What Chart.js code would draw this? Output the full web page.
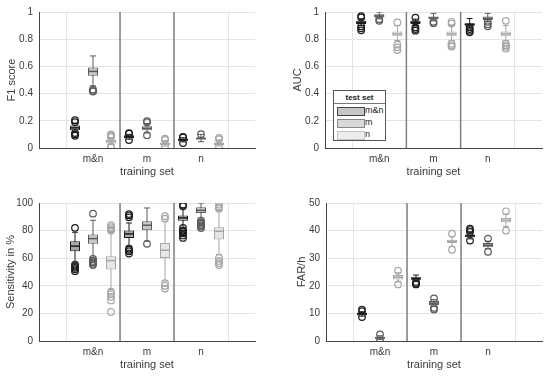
<!DOCTYPE html>
<html>
<head>
<meta charset="utf-8">
<script src="https://cdn.jsdelivr.net/npm/chart.js@4.4.0/dist/chart.umd.min.js"></script>
<style>
  body { margin: 0; background: #fff; }
  #wrap { position: relative; width: 550px; height: 376px; }
  .panel { position: absolute; width: 275px; height: 188px; }
  #legend { position: absolute; left: 333px; top: 90px; width: 51px; height: 49px; background: #fff;
            border: 1px solid #555; font: 9px "Liberation Sans", Arial, sans-serif; color: #222; }
  #legend .ttl { height: 12px; line-height: 13px; text-align: center; font-weight: bold; font-size: 8px; border-bottom: 1px solid #777; }
  #legend .row { position: relative; height: 11px; margin-top: 1px; }
  #legend .sw { position: absolute; left: 3px; top: 2px; width: 26px; height: 7px; }
  #legend .lb { position: absolute; left: 31px; top: 0px; color: #222; }
</style>
</head>
<body>
<div id="wrap">
  <div class="panel" style="left:0;top:0"><canvas id="c1" width="275" height="188"></canvas></div>
  <div class="panel" style="left:275px;top:0"><canvas id="c2" width="275" height="188"></canvas></div>
  <div class="panel" style="left:0;top:188px"><canvas id="c3" width="275" height="188"></canvas></div>
  <div class="panel" style="left:275px;top:188px"><canvas id="c4" width="275" height="188"></canvas></div>
  <div id="legend">
    <div class="ttl">test set</div>
    <div class="row"><div class="sw" style="background:#c6c6c6;border:1px solid #444"></div><span class="lb">m&amp;n</span></div>
    <div class="row"><div class="sw" style="background:#d8d8d8;border:1px solid #888"></div><span class="lb">m</span></div>
    <div class="row"><div class="sw" style="background:#ececec;border:1px solid #c4c4c4"></div><span class="lb">n</span></div>
  </div>
</div>
<script>
const trainingSets = ['m&n', 'm', 'n'];
const testSets = ['m&n', 'm', 'n'];

// all arrays indexed [test set][training set]
const f1Q1 = [[0.13, 0.072, 0.053], [0.532, 0.13, 0.063], [0.035, 0.02, 0.022]];
const f1Med = [[0.148, 0.082, 0.06], [0.563, 0.145, 0.07], [0.05, 0.03, 0.031]];
const f1Q3 = [[0.165, 0.094, 0.07], [0.592, 0.16, 0.077], [0.062, 0.04, 0.04]];
const f1Lo = [[0.12, 0.065, 0.045], [0.457, 0.11, 0.046], [0.025, 0.014, 0.016]];
const f1Hi = [[0.18, 0.1, 0.075], [0.677, 0.18, 0.1], [0.075, 0.055, 0.06]];
const f1Out = [
  [[0.205, 0.19, 0.11, 0.1, 0.09], [0.11, 0.105, 0.058], [0.082, 0.078, 0.036]],
  [[0.43, 0.42, 0.415], [0.198, 0.19, 0.094], [0.102]],
  [[0.1, 0.09, 0.08, 0.012, 0.005], [0.068, 0.06, 0.01], [0.075, 0.065, 0.01]]
];

const aucQ1 = [[0.911, 0.911, 0.899], [0.959, 0.947, 0.942], [0.822, 0.822, 0.822]];
const aucMed = [[0.923, 0.923, 0.909], [0.971, 0.957, 0.954], [0.839, 0.839, 0.839]];
const aucQ3 = [[0.935, 0.935, 0.918], [0.983, 0.966, 0.966], [0.856, 0.856, 0.856]];
const aucLo = [[0.9, 0.9, 0.888], [0.95, 0.935, 0.93], [0.79, 0.79, 0.79]];
const aucHi = [[0.95, 0.948, 0.952], [1.0, 0.99, 0.99], [0.9, 0.9, 0.9]];
const aucOut = [
  [[0.97, 0.96, 0.895, 0.88, 0.865], [0.958, 0.887, 0.875, 0.863], [0.887, 0.875, 0.862, 0.851]],
  [[0.947, 0.935], [0.928, 0.918], [0.928, 0.91, 0.895]],
  [[0.923, 0.76, 0.74, 0.72], [0.928, 0.915, 0.767, 0.755, 0.745], [0.935, 0.767, 0.755, 0.745, 0.73]]
];

const senQ1 = [[65, 74.7, 87.2], [70.4, 80.2, 92.8], [51.8, 60.2, 73.5]];
const senMed = [[68.7, 77.6, 89.2], [74.2, 83.9, 94.7], [58.3, 65.8, 79.5]];
const senQ3 = [[72.3, 80, 91], [77.1, 86.7, 96.9], [61.4, 71, 82.4]];
const senLo = [[56.6, 68.7, 82.4], [60.2, 72.3, 88], [37.3, 43.4, 62.7]];
const senHi = [[78.8, 85.5, 96.4], [87.5, 96.4, 100], [79.5, 86.7, 95.2]];
const senOut = [
  [[82, 55.4, 54, 53, 52, 50.6], [92, 91, 89.6, 67, 66, 65, 63.4], [98.8, 97.6, 81.9, 80, 79, 78, 76.5, 74.7]],
  [[92.3, 59.5, 58, 57, 56, 55], [70.4], [87.2, 86, 85, 84, 83, 81.9]],
  [[83.9, 82.5, 81, 80, 35.7, 34, 32, 29.4, 21], [90.4, 88.7, 42, 40, 38], [98.8, 97, 95.9, 60.2, 58, 56.5, 55]]
];

const farQ1 = [[9.3, 22.2, 37.6], [0.84, 13, 34], [22.3, 35.5, 42.9]];
const farMed = [[9.9, 22.65, 38.1], [1.2, 13.7, 34.7], [23.1, 36.1, 43.7]];
const farQ3 = [[10.2, 23.1, 38.6], [1.45, 14.5, 35.5], [23.9, 36.7, 44.6]];
const farLo = [[9, 21.6, 37], [0.5, 12.5, 33.5], [21.4, 34.3, 41.5]];
const farHi = [[10.6, 23.9, 39.2], [1.9, 15, 36.2], [24.7, 37.9, 46]];
const farOut = [
  [[11.4, 10.8, 8.7], [21.4, 20.8, 20.5], [40.7, 40.2, 39.5, 36.4]],
  [[2.4, 0.2], [15.4, 12, 11.4], [37.1, 32.3]],
  [[25.5, 20.5], [38.9, 33.1], [47, 40]]
];

const boxFill = ['#a8a8a8', '#c8c8c8', '#e6e6e6'];
const boxEdge = ['#1c1c1c', '#5a5a5a', '#a6a6a6'];

Chart.defaults.font.family = '"Liberation Sans", Arial, sans-serif';
Chart.defaults.color = '#3a3a3a';

function buildDatasets(q1, med, q3, lo, hi, out, yMax) {
  const ds = [];
  testSets.forEach((name, i) => {
    const xs = trainingSets.map((t, j) => j + 1 + (i - 1) / 3);
    ds.push({ type: 'bar', data: xs.map((x, j) => ({ x, y: [lo[i][j], hi[i][j]] })),
      grouped: false, maxBarThickness: 1, backgroundColor: boxEdge[i], order: 4 });
    ds.push({ type: 'bar', data: xs.map((x, j) => ({ x, y: [q1[i][j], q3[i][j]] })),
      grouped: false, maxBarThickness: 10, backgroundColor: boxFill[i], borderColor: boxEdge[i],
      borderWidth: 1, borderSkipped: false, order: 3 });
    ds.push({ type: 'scatter', data: xs.flatMap((x, j) => [{ x, y: lo[i][j] }, { x, y: hi[i][j] }]),
      pointStyle: 'line', pointRadius: 3, borderColor: boxEdge[i], borderWidth: 1, order: 2 });
    ds.push({ type: 'scatter', data: xs.map((x, j) => ({ x, y: med[i][j] })),
      pointStyle: 'line', pointRadius: 5, borderColor: boxEdge[i], borderWidth: 1.5, order: 1 });
    ds.push({ type: 'scatter', data: xs.flatMap((x, j) => out[i][j].map(v => ({ x, y: v }))),
      pointStyle: 'circle', pointRadius: 3.3, borderColor: boxEdge[i], backgroundColor: 'rgba(0,0,0,0)',
      borderWidth: 1.2, order: 0 });
  });
  [1.5, 2.5].forEach(x => ds.push({ type: 'line', data: [{ x, y: 0 }, { x, y: yMax }],
    borderColor: '#808080', borderWidth: 1.5, pointRadius: 0, order: 10 }));
  return ds;
}

function makePanel(id, yTitle, yMax, yStep, arrs, lay) {
  new Chart(document.getElementById(id), {
    type: 'scatter',
    data: { datasets: buildDatasets(...arrs, yMax) },
    options: {
      responsive: false,
      animation: false,
      layout: { padding: { top: lay.top, right: lay.right, left: 0, bottom: 0 } },
      plugins: { legend: { display: false }, tooltip: { enabled: false } },
      scales: {
        x: {
          type: 'linear', min: 0, max: 4, offset: false,
          afterBuildTicks: s => { s.ticks = [1, 2, 3].map(v => ({ value: v })); },
          afterFit: s => { s.height = lay.xh; },
          ticks: { padding: 5, font: { size: 10 }, callback: v => trainingSets[v - 1] },
          grid: { color: '#e4e4e4', drawTicks: false },
          border: { color: '#444' },
          title: { display: true, text: 'training set', font: { size: 11 }, padding: { bottom: lay.xt } }
        },
        y: {
          min: 0, max: yMax,
          afterFit: s => { s.width = lay.yw; },
          ticks: { stepSize: yStep, padding: 6, font: { size: 10 }, callback: v => String(+v.toFixed(2)) },
          grid: { color: '#e4e4e4', drawTicks: false },
          border: { color: '#444' },
          title: { display: true, text: yTitle, font: { size: 11 }, padding: { top: lay.yt } }
        }
      }
    }
  });
}

makePanel('c1', 'F1 score', 1, 0.2, [f1Q1, f1Med, f1Q3, f1Lo, f1Hi, f1Out],
  { top: 10, right: 20, xh: 40, yw: 39, xt: 9, yt: 5 });
makePanel('c2', 'AUC', 1, 0.2, [aucQ1, aucMed, aucQ3, aucLo, aucHi, aucOut],
  { top: 10, right: 8, xh: 40, yw: 50, xt: 9, yt: 16 });
makePanel('c3', 'Sensitivity in %', 100, 20, [senQ1, senMed, senQ3, senLo, senHi, senOut],
  { top: 15, right: 20, xh: 35, yw: 39, xt: 4, yt: 4 });
makePanel('c4', 'FAR/h', 50, 10, [farQ1, farMed, farQ3, farLo, farHi, farOut],
  { top: 15, right: 8, xh: 35, yw: 51, xt: 4, yt: 20 });
</script>
</body>
</html>
